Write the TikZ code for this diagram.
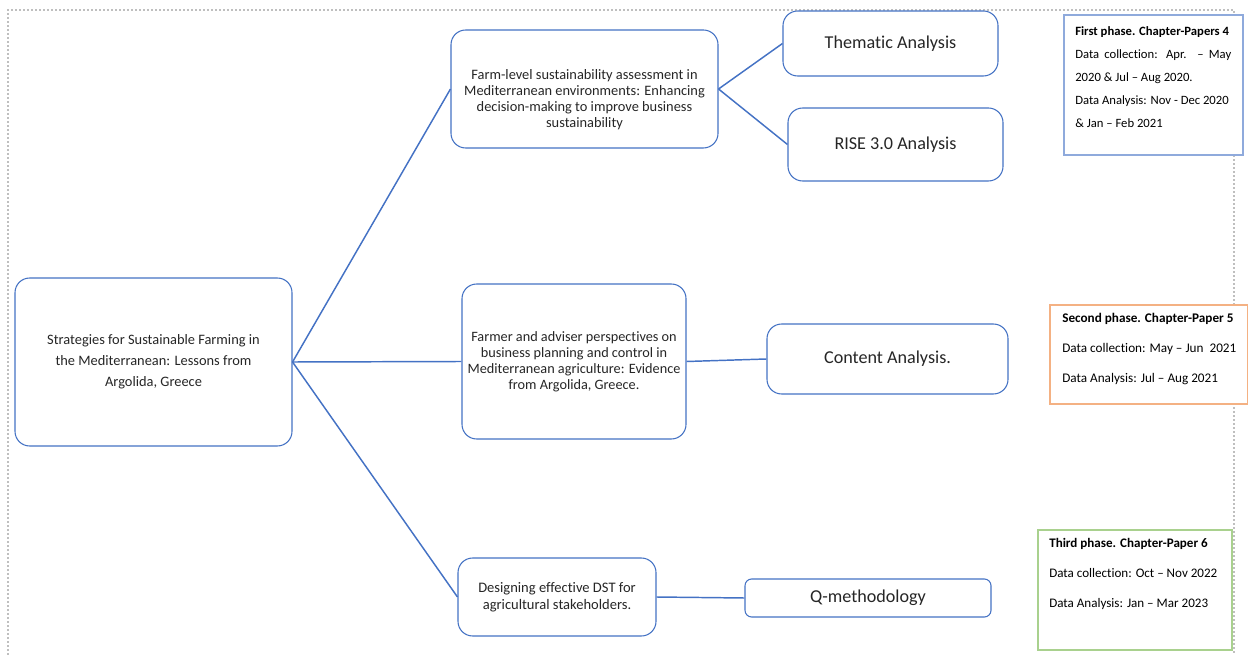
\documentclass[tikz,border=0pt]{standalone}
\usepackage{fontspec}
\setmainfont{Carlito}[Ligatures=NoCommon]
\definecolor{linkblue}{HTML}{4472C4}
\definecolor{inkgray}{HTML}{262626}
\definecolor{phaseblue}{HTML}{8FAADC}
\definecolor{phaseorange}{HTML}{F4B183}
\definecolor{phasegreen}{HTML}{A9D18E}
\definecolor{framegray}{HTML}{BFBFBF}
\begin{document}
\begin{tikzpicture}[x=0.75pt,y=-0.75pt,
  box/.style={draw=linkblue, line width=0.8pt, rounded corners=11pt, fill=white,
    inner sep=0pt, text=inkgray},
  label/.style={inner sep=0pt, text=inkgray, align=center},
  link/.style={draw=linkblue, line width=1.1pt},
  phase/.style={draw=#1, line width=1.4pt, fill=white, inner sep=0pt},
  phasetext/.style={inner sep=0pt, anchor=north west, align=left, text=black},
  method/.style={box, font=\fontsize{13.6}{16}\selectfont}]
\useasboundingbox (0,0) rectangle (1248,655);

% dotted page frame
\draw[framegray, line width=1.2pt, dash pattern=on 1.5pt off 1.5pt]
  (8,655) -- (8,10) -- (1234,10) -- (1234,655);

% main boxes
\node[box, minimum width=207.75pt, minimum height=126pt] (root) at (153.5,362) {};
\node[label, font=\fontsize{10.8}{15.75}\selectfont] (roottxt) at (153.5,362)
  {Strategies for Sustainable Farming in\\the Mediterranean: Lessons from\\Argolida, Greece};

\node[box, minimum width=200.25pt, minimum height=88.5pt] (farm) at (584.5,89) {};
\node[label, font=\fontsize{10.8}{12}\selectfont] (farmtxt) at (584.5,100)
  {Farm-level sustainability assessment in\\Mediterranean environments: Enhancing\\decision-making to improve business\\sustainability};

\node[box, minimum width=168pt, minimum height=116.25pt] (adv) at (574,361.5) {};
\node[label, font=\fontsize{10.7}{12}\selectfont] (advtxt) at (574,361.5)
  {Farmer and adviser perspectives on\\business planning and control in\\Mediterranean agriculture: Evidence\\from Argolida, Greece.};

\node[box, minimum width=148.5pt, minimum height=58.5pt] (dst) at (557,597) {};
\node[label, font=\fontsize{10.9}{12.75}\selectfont] (dsttxt) at (557,597)
  {Designing effective DST for\\agricultural stakeholders.};

% method boxes
\node[method, minimum width=161.25pt, minimum height=48.75pt] (them) at (890.5,43.5) {Thematic Analysis};
\node[method, minimum width=161.25pt, minimum height=54.75pt] (rise) at (895.5,144.5) {RISE 3.0 Analysis};
\node[method, minimum width=180.75pt, minimum height=52.5pt] (cont) at (887.5,359) {Content Analysis.};
\node[method, minimum width=184.5pt, minimum height=28.5pt, rounded corners=5pt] (qmeth) at (868,598) {Q-methodology};

% connectors
\draw[link] (root.east) -- (farm.west);
\draw[link] (root.east) -- (adv.west);
\draw[link] (root.east) -- (dst.west);
\draw[link] (farm.east) -- (them.west);
\draw[link] (farm.east) -- (rise.west);
\draw[link] (adv.east) -- (cont.west);
\draw[link] (dst.east) -- (qmeth.west);

% phase notes
\node[phase=phaseblue, minimum width=134.25pt, minimum height=105pt] (p1) at (1153.5,85) {};
\node[phasetext, font=\fontsize{9.5}{17.4}\selectfont] (p1txt) at (1075,26)
  {\textbf{First phase. Chapter-Papers 4}\\\makebox[117pt][s]{Data collection: Apr. – May}\\2020 \& Jul – Aug 2020.\\Data Analysis: Nov - Dec 2020\\\& Jan – Feb 2021};

\node[phase=phaseorange, minimum width=148.5pt, minimum height=74.25pt] (p2) at (1149,354.5) {};
\node[phasetext, font=\fontsize{9.9}{22.5}\selectfont] (p2txt) at (1062,313)
  {\textbf{Second phase. Chapter-Paper 5}\\Data collection: May – Jun~~2021\\Data Analysis: Jul – Aug 2021};

\node[phase=phasegreen, minimum width=145.5pt, minimum height=90pt] (p3) at (1135,590) {};
\node[phasetext, font=\fontsize{9.8}{22.5}\selectfont] (p3txt) at (1049,538)
  {\textbf{Third phase. Chapter-Paper 6}\\Data collection: Oct – Nov 2022\\Data Analysis: Jan – Mar 2023};
\end{tikzpicture}
\end{document}
